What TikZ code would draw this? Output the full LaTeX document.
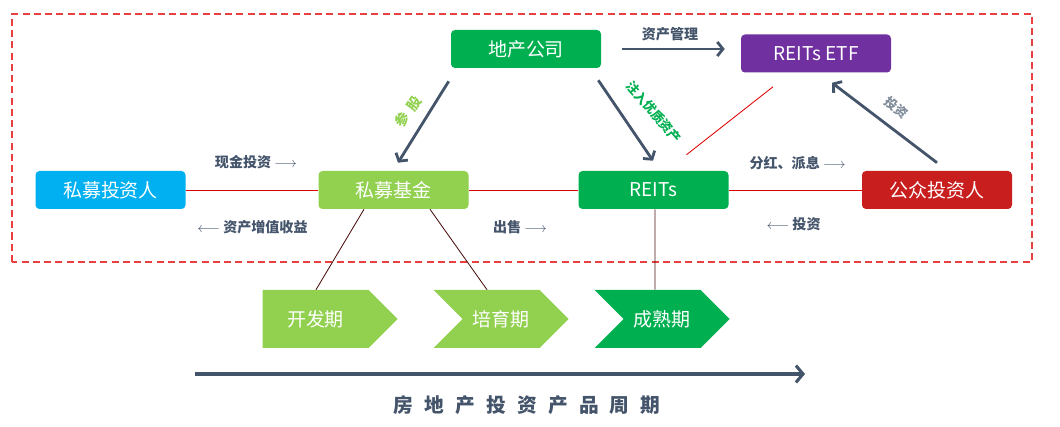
\documentclass[tikz,border=0pt]{standalone}
\usepackage{fontspec}
\setmainfont{Noto Sans CJK SC}
\usetikzlibrary{arrows.meta, positioning, shapes.symbols, calc}
\definecolor{slate}{HTML}{44546A}
\definecolor{ggreen}{HTML}{00B050}
\definecolor{lgreen}{HTML}{92D050}
\definecolor{skyblue}{HTML}{00B0F0}
\definecolor{vpurple}{HTML}{7030A0}
\definecolor{dred}{HTML}{C81E1E}
\definecolor{linered}{HTML}{E00000}
\definecolor{legbrown}{HTML}{4A1010}
\definecolor{greyslate}{HTML}{7F8A99}
\newcommand{\tsp}{\hspace{8pt}}

\begin{document}
\begin{tikzpicture}[
      box/.style={rounded corners=0.1cm, minimum width=3.75cm, minimum height=0.95cm, inner sep=0pt, text=white, font=\fontsize{13.5}{15}\selectfont},
      stage/.style={signal, signal to=east, signal pointer angle=90, minimum width=3.375cm, minimum height=1.45cm, inner sep=0pt, text=white, font=\fontsize{13.5}{15}\selectfont},
      flow/.style={draw=slate, line width=2pt, -{Straight Barb[length=4pt, width=10pt]}},
      tie/.style={draw=linered, line width=0.6pt},
      leg/.style={draw=legbrown, line width=0.6pt},
      lbl/.style={text=slate, font=\bfseries\fontsize{10}{12}\selectfont}
    ]
      \useasboundingbox (0,0) rectangle (26.5,10.65);
      \draw[linered!75, line width=0.8pt, dash pattern=on 5pt off 3pt] (0.3,4.1) rectangle (25.8,10.3);

      \node[box, fill=ggreen] (dc) at (13.15,9.425) {地产公司};
      \node[box, fill=vpurple] (etf) at (20.4,9.3125) {REITs ETF};
      \node[box, fill=skyblue] (sr) at (2.7625,5.9) {私募投资人};
      \node[box, fill=lgreen] (jj) at (9.8375,5.9) {私募基金};
      \node[box, fill=ggreen] (reits) at (16.3375,5.9) {REITs};
      \node[box, fill=dred] (gz) at (23.425,5.9) {公众投资人};

      \node[stage, fill=lgreen] (kf) at (7.8875,2.675) {开发期};
      \node[stage, fill=lgreen, signal from=west] (py) at (12.525,2.675) {培育期};
      \node[stage, fill=ggreen, signal from=west] (cs) at (16.55,2.675) {成熟期};

      \draw[tie] (sr) -- (jj);
      \draw[tie] (jj) -- (reits);
      \draw[tie] (reits) -- (gz);
      \draw[tie] ([xshift=0.825cm,yshift=0.4cm]reits.north) -- ([xshift=-1.075cm,yshift=-0.35cm]etf.south);

      \draw[leg] ([xshift=-0.7375cm]jj.south) -- ([xshift=0.0125cm]kf.north);
      \draw[leg] ([xshift=0.9125cm]jj.south) -- ([xshift=-0.35cm]py.north);
      \draw[leg] ([xshift=0.0375cm]reits.south) -- ([xshift=-0.175cm]cs.north);

      \draw[flow] ([xshift=-0.05cm,yshift=-0.325cm]dc.south west) -- ([xshift=0.1125cm,yshift=0.2cm]jj.north);
      \draw[flow] ([xshift=-0.075cm,yshift=-0.3cm]dc.south east) -- ([xshift=-0.0125cm,yshift=0.25cm]reits.north);
      \draw[flow] ([xshift=0.525cm]dc.east) -- ([xshift=-0.4cm]etf.west |- dc.east);
      \draw[flow] ([yshift=0.2cm]gz.north) -- ([xshift=0.4cm,yshift=-0.25cm]etf.south);

      \node[lbl] (l1) at (16.75,9.8) {资产管理};
      \node[lbl, text=lgreen, rotate=55] (l2) at (10.2,7.85) {参\hspace{4pt}股};
      \node[lbl, text=ggreen, rotate=-49, font=\bfseries\fontsize{9}{11}\selectfont] (l3) at (16.35,7.85) {注入优质资产};
      \node[lbl, text=greyslate, rotate=-38, font=\bfseries\fontsize{9}{11}\selectfont] (l4) at (22.42,7.95) {投资};
      \node[lbl] (l5) at (6.4,6.6) {现金投资 $\longrightarrow$};
      \node[lbl] (l6) at (6.3125,4.975) {$\longleftarrow$ 资产增值收益};
      \node[lbl] (l7) at (13.0,4.975) {出售 $\longrightarrow$};
      \node[lbl] (l8) at (19.94,6.575) {分红、派息 $\longrightarrow$};
      \node[lbl] (l9) at (19.84,5.05) {$\longleftarrow$ 投资};

      \coordinate (t0) at (4.875,1.3);
      \coordinate (t1) at (20.125,1.3);
      \draw[draw=slate, line width=2.2pt, -{Straight Barb[length=5pt, width=12pt]}] (t0) -- (t1);
      \node[text=slate, font=\bfseries\fontsize{14}{16}\selectfont] (title) at (13.175,0.525)
        {房\tsp 地\tsp 产\tsp 投\tsp 资\tsp 产\tsp 品\tsp 周\tsp 期};
    \end{tikzpicture}
\end{document}
